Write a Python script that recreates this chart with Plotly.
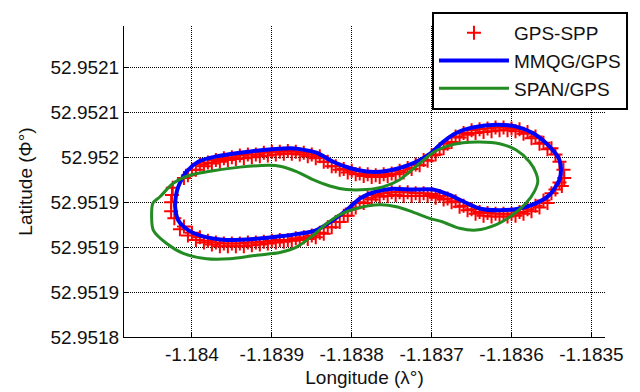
import plotly.graph_objects as go

# ---------------- data (lon, lat in degrees) ----------------
# MMQG/GPS trajectory
mmqg_lon = [-1.184021, -1.184020, -1.1840171, -1.1840066, -1.1839921, -1.1839691, -1.183940, -1.1839109,
            -1.1838775, -1.183865, -1.1838441, -1.1838234, -1.1838025, -1.1837816, -1.1837609, -1.183740,
            -1.1837191, -1.1837004, -1.1836859, -1.1836691, -1.1836484, -1.1836191, -1.1835941, -1.1835734,
            -1.1835525, -1.183540, -1.1835381, -1.183540, -1.1835525, -1.1835691, -1.183590, -1.183615,
            -1.183640, -1.1836609, -1.1836775, -1.1836984, -1.1837234, -1.1837484, -1.1837691, -1.183790,
            -1.1838066, -1.1838234, -1.1838441, -1.183865, -1.183890, -1.1839234, -1.1839566, -1.1839859,
            -1.1840046, -1.1840171, -1.184021]
mmqg_lat = [52.951945, 52.951957, 52.951967, 52.951984, 52.951995, 52.952001, 52.952005, 52.952008,
            52.952010, 52.952009, 52.952005, 52.951995, 52.951988, 52.951984, 52.951984, 52.951988,
            52.951995, 52.952005, 52.952017, 52.952027, 52.952033, 52.952036, 52.952034, 52.952027,
            52.952012, 52.951997, 52.951986, 52.951975, 52.951958, 52.951949, 52.951943, 52.951941,
            52.951943, 52.951951, 52.951958, 52.951964, 52.951964, 52.951965, 52.951962, 52.951954,
            52.951941, 52.951930, 52.951919, 52.951915, 52.951912, 52.951909, 52.951908, 52.951912,
            52.951919, 52.951930, 52.951945]

# SPAN/GPS trajectory
span_lon = [-1.1840504, -1.1840488, -1.184040, -1.1840234, -1.1840025, -1.1839734, -1.183940, -1.1839025,
            -1.183890, -1.1838691, -1.1838484, -1.1838275, -1.1838066, -1.1837816, -1.1837609, -1.183740,
            -1.1837191, -1.1836984, -1.1836816, -1.1836609, -1.183640, -1.183615, -1.1835941, -1.1835775,
            -1.1835691, -1.1835671, -1.1835713, -1.1835816, -1.1835984, -1.1836191, -1.1836441, -1.183665,
            -1.1836859, -1.1837025, -1.1837234, -1.1837441, -1.183765, -1.1837941, -1.183815, -1.1838316,
            -1.1838484, -1.1838691, -1.183890, -1.1839191, -1.1839525, -1.1839816, -1.1840109, -1.1840316,
            -1.1840484, -1.1840504]
span_lat = [52.951938, 52.951949, 52.951956, 52.951971, 52.951980, 52.951985, 52.951989, 52.951991,
            52.951990, 52.951984, 52.951975, 52.951968, 52.951964, 52.951964, 52.951967, 52.951975,
            52.951990, 52.952005, 52.952012, 52.952016, 52.952017, 52.952015, 52.952008, 52.951995,
            52.951982, 52.951973, 52.951962, 52.951949, 52.951936, 52.951925, 52.951919, 52.951921,
            52.951928, 52.951932, 52.951939, 52.951945, 52.951947, 52.951943, 52.951936, 52.951926,
            52.951913, 52.951900, 52.951894, 52.951891, 52.951887, 52.951887, 52.951893, 52.951904,
            52.951919, 52.951938]

# GPS-SPP fixes
spp_lon = [-1.184024, -1.18401, -1.18400, -1.18399, -1.18398, -1.18397, -1.18396, -1.18395, -1.18394,
           -1.18393, -1.18392, -1.18391, -1.18390, -1.18389, -1.18388, -1.18387, -1.18386, -1.18385,
           -1.18384, -1.18383, -1.18382, -1.18381, -1.18380, -1.18379, -1.18378, -1.18377, -1.18376,
           -1.18375, -1.18374, -1.18373, -1.18372, -1.18371, -1.18370, -1.18369, -1.18368, -1.18367,
           -1.18366, -1.18365, -1.18364, -1.18363, -1.18362, -1.18361, -1.18360, -1.18359, -1.18358,
           -1.18357, -1.18356, -1.18355, -1.183545, -1.18354, -1.183535, -1.183534, -1.183537,
           -1.18354, -1.18355, -1.18356, -1.18357, -1.18358, -1.18359, -1.18360, -1.18361, -1.18362,
           -1.18363, -1.18364, -1.18365, -1.18366, -1.18367, -1.18368, -1.18369, -1.18370, -1.18371,
           -1.18372, -1.18373, -1.18374, -1.18375, -1.18376, -1.18377, -1.18378, -1.18379, -1.18380,
           -1.18381, -1.18382, -1.18383, -1.18384, -1.18385, -1.18386, -1.18387, -1.18388, -1.18389,
           -1.18390, -1.18391, -1.18392, -1.18393, -1.18394, -1.18395, -1.18396, -1.18397, -1.18398,
           -1.18399, -1.18400, -1.18401, -1.184022, -1.184026, -1.184026, -1.184025,
           # upper branch, lower-lying fixes
           -1.184005, -1.183995, -1.183985, -1.183975, -1.183965, -1.183955, -1.183945, -1.183935,
           -1.183925, -1.183915, -1.183905, -1.183895, -1.183885, -1.183875, -1.183865, -1.183855,
           -1.183845, -1.183835, -1.183825, -1.183815, -1.183805, -1.183795, -1.183785, -1.183775,
           -1.183765, -1.183755, -1.183745, -1.183735, -1.183725, -1.183715, -1.183705, -1.183695,
           -1.183685, -1.183675, -1.183665, -1.183655, -1.183645, -1.183635, -1.183625, -1.183615,
           -1.183605, -1.183595, -1.183585, -1.183575, -1.183565, -1.183555,
           # lower branch, lower-lying fixes
           -1.183545, -1.183555, -1.183565, -1.183575, -1.183585, -1.183595, -1.183605, -1.183615,
           -1.183625, -1.183635, -1.183645, -1.183655, -1.183665, -1.183675, -1.183685, -1.183695,
           -1.183705, -1.183715, -1.183725, -1.183735, -1.183745, -1.183755, -1.183765, -1.183775,
           -1.183785, -1.183795, -1.183805, -1.183815, -1.183825, -1.183835, -1.183845, -1.183855,
           -1.183865, -1.183875, -1.183885, -1.183895, -1.183905, -1.183915, -1.183925, -1.183935,
           -1.183945, -1.183955, -1.183965, -1.183975, -1.183985, -1.183995, -1.184005, -1.184015]
spp_lat = [52.951966, 52.951977, 52.951986, 52.951992, 52.951994, 52.951997, 52.951999, 52.952000, 52.952002,
           52.952003, 52.952003, 52.952005, 52.952006, 52.952006, 52.952007, 52.952006, 52.952005, 52.952003,
           52.952001, 52.951995, 52.951990, 52.951987, 52.951985, 52.951982, 52.951981, 52.951980, 52.951981,
           52.951982, 52.951985, 52.951988, 52.951992, 52.951997, 52.952002, 52.952009, 52.952015, 52.952023,
           52.952027, 52.952030, 52.952031, 52.952032, 52.952033, 52.952033, 52.952032, 52.952031, 52.952028,
           52.952023, 52.952016, 52.952010, 52.952003, 52.951995, 52.951986, 52.951977, 52.951968,
           52.951972, 52.951960, 52.951952, 52.951946, 52.951942, 52.951939, 52.951937, 52.951937, 52.951937,
           52.951938, 52.951939, 52.951942, 52.951946, 52.951951, 52.951954, 52.951957, 52.951959, 52.951960,
           52.951960, 52.951961, 52.951961, 52.951961, 52.951960, 52.951958, 52.951955, 52.951950, 52.951943,
           52.951935, 52.951928, 52.951922, 52.951916, 52.951913, 52.951911, 52.951910, 52.951908, 52.951908,
           52.951907, 52.951906, 52.951905, 52.951905, 52.951904, 52.951904, 52.951904, 52.951905, 52.951907,
           52.951911, 52.951916, 52.951923, 52.951932, 52.951940, 52.951950, 52.951958,
           52.951980, 52.951986, 52.951990, 52.951993, 52.951995, 52.951997, 52.951998, 52.951999,
           52.952000, 52.952001, 52.952002, 52.952003, 52.952004, 52.952004, 52.952003, 52.952001,
           52.951999, 52.951995, 52.951990, 52.951986, 52.951983, 52.951981, 52.951979, 52.951978,
           52.951978, 52.951979, 52.951981, 52.951983, 52.951987, 52.951991, 52.951996, 52.952003,
           52.952010, 52.952017, 52.952022, 52.952025, 52.952027, 52.952028, 52.952029, 52.952030,
           52.952030, 52.952029, 52.952026, 52.952021, 52.952015, 52.952009,
           52.951964, 52.951949, 52.951944, 52.951940, 52.951937, 52.951935, 52.951934, 52.951934,
           52.951934, 52.951935, 52.951937, 52.951941, 52.951945, 52.951950, 52.951953, 52.951955,
           52.951957, 52.951957, 52.951957, 52.951957, 52.951958, 52.951957, 52.951956, 52.951953,
           52.951949, 52.951944, 52.951935, 52.951928, 52.951922, 52.951915, 52.951911, 52.951909,
           52.951908, 52.951907, 52.951906, 52.951905, 52.951904, 52.951903, 52.951902, 52.951901,
           52.951901, 52.951901, 52.951901, 52.951903, 52.951905, 52.951908, 52.951913, 52.951920]

x_ticks = [-1.184, -1.1839, -1.1838, -1.1837, -1.1836, -1.1835]
x_ticktext = ["-1.184", "-1.1839", "-1.1838", "-1.1837", "-1.1836", "-1.1835"]
y_ticks = [52.9518, 52.95185, 52.9519, 52.95195, 52.952, 52.95205, 52.9521]
y_ticktext = ["52.9518", "52.9519", "52.9519", "52.9519", "52.952", "52.9521", "52.9521"]

FONT = "Liberation Sans, Arial, sans-serif"

fig = go.Figure()
fig.add_trace(go.Scatter(x=spp_lon, y=spp_lat, mode="markers", name="GPS-SPP",
                         marker=dict(symbol="cross-thin", size=10, color="red",
                                     line=dict(color="red", width=2))))
fig.add_trace(go.Scatter(x=mmqg_lon, y=mmqg_lat, mode="lines", name="MMQG/GPS",
                         line=dict(color="#0000ff", width=4, shape="spline", smoothing=0.8)))
fig.add_trace(go.Scatter(x=span_lon, y=span_lat, mode="lines", name="SPAN/GPS",
                         line=dict(color="#228b22", width=3, shape="spline", smoothing=0.8)))

axis_common = dict(showline=True, linecolor="black", linewidth=1, ticks="inside", ticklen=5,
                   tickcolor="black", showgrid=True, gridcolor="black", gridwidth=1, griddash="1px,1px",
                   zeroline=False, mirror=False, tickfont=dict(size=19, color="#111111"),
                   title_font=dict(size=19, color="#111111"))

fig.update_xaxes(range=[-1.184085, -1.183483], tickvals=x_ticks, ticktext=x_ticktext,
                 title_text="Longitude (λ°)", title_standoff=6, **axis_common)
fig.update_yaxes(range=[52.9518, 52.952146], tickvals=y_ticks, ticktext=y_ticktext,
                 title_text="Latitude (Φ°)", title_standoff=12, **axis_common)

# the page body adds an 8 px margin, so the figure is 8 px smaller than the window
fig.update_layout(
    width=632, height=384,
    margin=dict(l=116, r=35, t=18, b=55, autoexpand=False),
    plot_bgcolor="white", paper_bgcolor="white",
    font=dict(family=FONT, size=19, color="#111111"),
    legend=dict(x=0.6403, y=1.045, xanchor="left", yanchor="top",
                bgcolor="white", bordercolor="black", borderwidth=2,
                font=dict(size=19), itemwidth=70, tracegroupgap=0),
    showlegend=True,
)

fig.write_html("out.html")
